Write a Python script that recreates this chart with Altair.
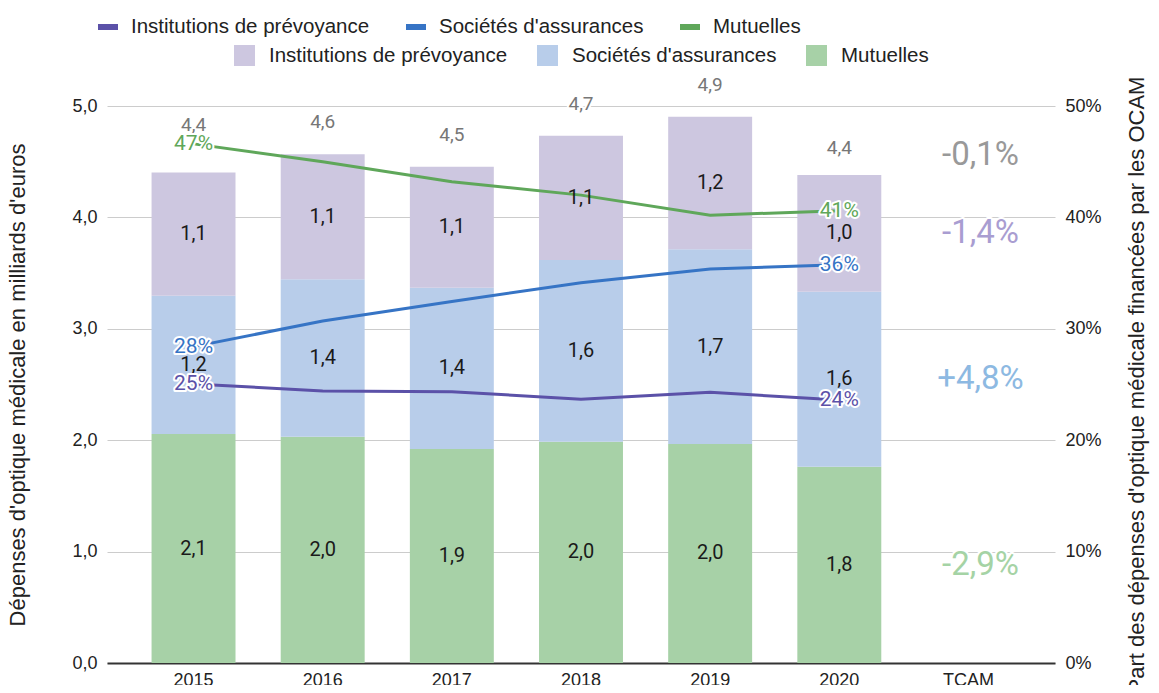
import altair as alt
import pandas as pd

years = ["2015", "2016", "2017", "2018", "2019", "2020"]
categories = years + ["TCAM"]
series = ["Institutions de prévoyance", "Sociétés d'assurances", "Mutuelles"]

# spending, billions of euros
ip_bn = [1.108, 1.122, 1.086, 1.115, 1.190, 1.048]
soc_bn = [1.241, 1.412, 1.448, 1.632, 1.748, 1.571]
mut_bn = [2.055, 2.032, 1.921, 1.986, 1.966, 1.762]

# share of OCAM spending
ip_share = [0.2505, 0.2442, 0.2436, 0.2367, 0.2430, 0.2360]
soc_share = [0.2840, 0.3070, 0.3245, 0.3414, 0.3537, 0.3575]
mut_share = [0.4660, 0.4500, 0.4320, 0.4200, 0.4020, 0.4060]

# TCAM (annual average growth rate)
tcam_series = ["-1,4%", "+4,8%", "-2,9%"]
tcam_total = "-0,1%"

bar_colors = ["#cdc7e0", "#b8cdea", "#a7d1a7"]
line_colors = ["#5b51a8", "#3674c5", "#5fa75a"]
tcam_colors = ["#a99dd1", "#8db9e2", "#a5d3a5"]
total_color = "#777777"
tcam_total_color = "#999999"


def fr(v, d=1):
    return f"{v:.{d}f}".replace(".", ",")


bn = {series[0]: ip_bn, series[1]: soc_bn, series[2]: mut_bn}
shares = {series[0]: ip_share, series[1]: soc_share, series[2]: mut_share}
rank = {series[2]: 0, series[1]: 1, series[0]: 2}

bar_rows, seg_rows, tot_rows = [], [], []
for i, y in enumerate(years):
    base = 0.0
    for s in [series[2], series[1], series[0]]:
        v = bn[s][i]
        bar_rows.append({"year": y, "serie": s, "value": v, "rank": rank[s]})
        seg_rows.append({"year": y, "serie": s, "mid": base + v / 2, "label": fr(v)})
        base += v
    tot_rows.append({"year": y, "total": base, "label": fr(base)})
bar_df = pd.DataFrame(bar_rows)
seg_df = pd.DataFrame(seg_rows)
tot_df = pd.DataFrame(tot_rows)

line_rows = []
for s, c in zip(series, line_colors):
    for i, y in enumerate(years):
        line_rows.append({"year": y, "courbe": s, "share": shares[s][i],
                          "label": f"{int(shares[s][i] * 100 + 0.5)}%", "col": c})
line_df = pd.DataFrame(line_rows)
lab_df = line_df[line_df["year"].isin([years[0], years[-1]])]

tcam_rows = []
last = seg_df[seg_df["year"] == years[-1]].set_index("serie")
for s, lab, c in zip(series, tcam_series, tcam_colors):
    tcam_rows.append({"year": "TCAM", "pos": last.loc[s, "mid"], "label": lab, "col": c})
tcam_df = pd.DataFrame(tcam_rows)
tcam_tot_df = pd.DataFrame([{"year": "TCAM", "pos": tot_rows[-1]["total"],
                             "label": tcam_total, "col": tcam_total_color}])

AX_FONT = "Liberation Sans"
LBL_FONT = "Roboto"
LEG_SIZE = 20.5

xscale = alt.Scale(domain=categories, paddingInner=0.35, paddingOuter=0.345)
xaxis = alt.Axis(labelAngle=0, ticks=False, domain=True, domainColor="#333333",
                 domainWidth=2, labelPadding=8, labelFont=AX_FONT, labelFontSize=18,
                 labelColor="#222222", grid=False)
X = alt.X("year:N", scale=xscale, axis=xaxis, title=None)

yl_scale = alt.Scale(domain=[0, 5], nice=False, zero=True)
yr_scale = alt.Scale(domain=[0, 0.5], nice=False, zero=True)

left_axis = alt.Axis(
    orient="left", values=[0, 1, 2, 3, 4, 5],
    labelExpr="replace(format(datum.value, '.1f'), '.', ',')",
    grid=True, gridColor="#cccccc", gridWidth=1, domain=False, ticks=False,
    labelPadding=10, labelFont=AX_FONT, labelFontSize=18, labelColor="#222222",
    title="Dépenses d'optique médicale en milliards d'euros",
    titleFont=AX_FONT, titleFontSize=22, titleFontWeight="normal",
    titleColor="#222222", titlePadding=42)

right_axis = alt.Axis(
    orient="right", values=[0, 0.1, 0.2, 0.3, 0.4, 0.5], format=".0%",
    grid=False, domain=False, ticks=False,
    labelPadding=10, labelFont=AX_FONT, labelFontSize=18, labelColor="#222222",
    title="Part des dépenses d'optique médicale financées par les OCAM",
    titleFont=AX_FONT, titleFontSize=22, titleFontWeight="normal",
    titleColor="#222222", titleAngle=270, titlePadding=47)

bars = alt.Chart(bar_df).mark_bar().encode(
    x=X,
    y=alt.Y("value:Q", stack="zero", scale=yl_scale, axis=left_axis),
    fill=alt.Fill("serie:N", scale=alt.Scale(domain=series, range=bar_colors),
                  legend=alt.Legend(title=None, orient="none", legendX=127, legendY=-61,
                                    direction="horizontal", symbolType="square",
                                    symbolSize=441, symbolStrokeWidth=0, symbolOpacity=1,
                                    labelFont=AX_FONT, labelFontSize=LEG_SIZE,
                                    labelColor="#222222",
                                    labelOffset=14, columnPadding=29, labelLimit=400)),
    order=alt.Order("rank:Q"),
)

lines = alt.Chart(line_df).mark_line(strokeWidth=3).encode(
    x=X,
    y=alt.Y("share:Q", scale=yr_scale, axis=right_axis),
    stroke=alt.Stroke("courbe:N", sort=series, scale=alt.Scale(range=line_colors),
                      legend=alt.Legend(title=None, orient="none", legendX=-12, legendY=-92,
                                        direction="horizontal", symbolType="stroke",
                                        symbolSize=400, symbolStrokeWidth=6,
                                        labelFont=AX_FONT, labelFontSize=LEG_SIZE,
                                        labelColor="#222222", labelOffset=10,
                                        columnPadding=24, gridAlign="none",
                                        labelLimit=400)),
)

seg_text = alt.Chart(seg_df).mark_text(font=LBL_FONT, fontSize=20, color="#1a1a1a",
                                        baseline="middle").encode(
    x=X, y=alt.Y("mid:Q", scale=yl_scale, axis=None), text="label:N")


def halo_pair(df, ycol, yscale, size, dy=0, dx=0, fixed_color=None):
    base = alt.Chart(df)
    halo = base.mark_text(font=LBL_FONT, fontSize=size, baseline="middle", dy=dy, dx=dx,
                          stroke="white", strokeWidth=4, strokeJoin="round",
                          fill="white").encode(
        x=X, y=alt.Y(f"{ycol}:Q", scale=yscale, axis=None), text="label:N")
    if fixed_color:
        front = base.mark_text(font=LBL_FONT, fontSize=size, baseline="middle", dy=dy,
                               dx=dx, color=fixed_color).encode(
            x=X, y=alt.Y(f"{ycol}:Q", scale=yscale, axis=None), text="label:N")
    else:
        front = base.mark_text(font=LBL_FONT, fontSize=size, baseline="middle", dy=dy,
                               dx=dx).encode(
            x=X, y=alt.Y(f"{ycol}:Q", scale=yscale, axis=None), text="label:N",
            color=alt.Color("col:N", scale=None))
    return halo, front


tot_mid = tot_df[~tot_df["year"].isin([years[0], years[-1]])]
tot_first = tot_df[tot_df["year"] == years[0]]
tot_last = tot_df[tot_df["year"] == years[-1]]
t1 = halo_pair(tot_mid, "total", yl_scale, 19, dy=-32, fixed_color=total_color)
t2 = halo_pair(tot_first, "total", yl_scale, 19, dy=-47, fixed_color=total_color)
t3 = halo_pair(tot_last, "total", yl_scale, 19, dy=-27, fixed_color=total_color)
tc = halo_pair(tcam_df, "pos", yl_scale, 33, dx=12)
tct = halo_pair(tcam_tot_df, "pos", yl_scale, 33, dx=12, dy=-20)

left_texts = alt.layer(seg_text, *t1, *t2, *t3, *tc, *tct)

ll = halo_pair(lab_df, "share", yr_scale, 21)
right_texts = alt.layer(*ll)

chart = alt.layer(bars, lines, left_texts, right_texts).resolve_scale(
    y="independent"
).properties(
    width=948, height=557,
    autosize=alt.AutoSizeParams(type="none"),
    padding={"left": 99, "top": 98, "right": 96, "bottom": 22},
).configure_view(stroke=None)

chart.save("out.html", embed_options={"renderer": "svg", "actions": False})
